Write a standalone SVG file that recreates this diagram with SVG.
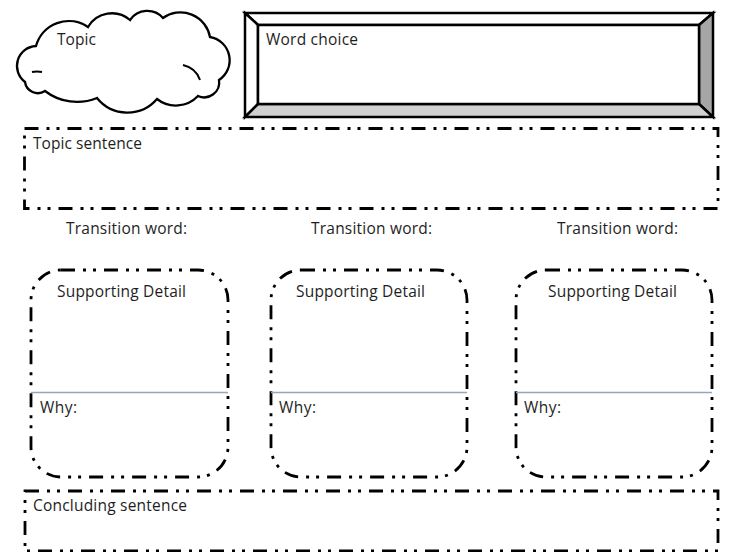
<svg xmlns="http://www.w3.org/2000/svg" width="736" height="552" viewBox="0 0 736 552">
<style>
.dd{fill:none;stroke:#000;stroke-width:2.8;stroke-dasharray:14 8 3 7 3 8}
.t{font-family:"Open Sans","Noto Sans","Liberation Sans",sans-serif;font-size:15.5px;fill:#1e1e1e}
.sep{stroke:#94a7b8;stroke-width:1.5}
.bev{stroke:#000;stroke-width:2.5;stroke-linejoin:miter}
</style>
<rect width="736" height="552" fill="#fff"/>
<g id="topic">
<path d="M25,82 A20,20 0 0 1 36,46 A34,34 0 0 1 88,27 A27.7,27.7 0 0 1 130,20 A21,21 0 0 1 163,18 A30,30 0 0 1 210,37 A23.6,23.6 0 0 1 219,80 A15,15 0 0 1 198,96 A30.5,30.5 0 0 1 157,99 A39,39 0 0 1 97,98 A52.5,52.5 0 0 1 45,91 A13,13 0 0 1 25,82 Z" fill="#fff" stroke="#000" stroke-width="2.3"/>
<path d="M32,72 Q37,71 42,72" fill="none" stroke="#000" stroke-width="2"/>
<path d="M183,65 Q196,68 200,80" fill="none" stroke="#000" stroke-width="2"/>
<text class="t" x="57" y="45" textLength="39">Topic</text>
</g>
<g id="word-choice">
<polygon class="bev" points="245,13 713,13 699,25 258,25" fill="#fff"/>
<polygon class="bev" points="245,13 258,25 258,104 245,117" fill="#fff"/>
<polygon class="bev" points="713,13 713,117 699,104 699,25" fill="#a6a6a6"/>
<polygon class="bev" points="245,117 713,117 699,104 258,104" fill="#d0d0d0"/>
<rect class="bev" x="258" y="25" width="441" height="79" fill="#fff"/>
<text class="t" x="266" y="45" textLength="92">Word choice</text>
</g>
<g id="topic-sentence">
<rect class="dd" x="24.5" y="128.5" width="693.5" height="80"/>
<text class="t" x="33" y="149" textLength="109">Topic sentence</text>
</g>
<g id="transitions">
<text class="t" x="126.5" y="234" text-anchor="middle" textLength="121">Transition word:</text>
<text class="t" x="371.5" y="234" text-anchor="middle" textLength="121">Transition word:</text>
<text class="t" x="617.5" y="234" text-anchor="middle" textLength="121">Transition word:</text>
</g>
<g id="detail-1">
<rect class="dd" x="31" y="270" width="197" height="207" rx="30"/>
<line class="sep" x1="31" y1="392.5" x2="228" y2="392.5"/>
<text class="t" x="57" y="297" textLength="129">Supporting Detail</text>
<text class="t" x="40" y="413" textLength="37">Why:</text>
</g>
<g id="detail-2">
<rect class="dd" x="271" y="270" width="196" height="207" rx="30"/>
<line class="sep" x1="271" y1="392.5" x2="467" y2="392.5"/>
<text class="t" x="296" y="297" textLength="129">Supporting Detail</text>
<text class="t" x="279" y="413" textLength="37">Why:</text>
</g>
<g id="detail-3">
<rect class="dd" x="516" y="270" width="196" height="207" rx="30"/>
<line class="sep" x1="516" y1="392.5" x2="712" y2="392.5"/>
<text class="t" x="548" y="297" textLength="129">Supporting Detail</text>
<text class="t" x="524" y="413" textLength="37">Why:</text>
</g>
<g id="concluding-sentence">
<rect class="dd" x="25" y="491" width="693" height="60"/>
<text class="t" x="33" y="511" textLength="154">Concluding sentence</text>
</g>
<g id="connectors"></g>
</svg>
